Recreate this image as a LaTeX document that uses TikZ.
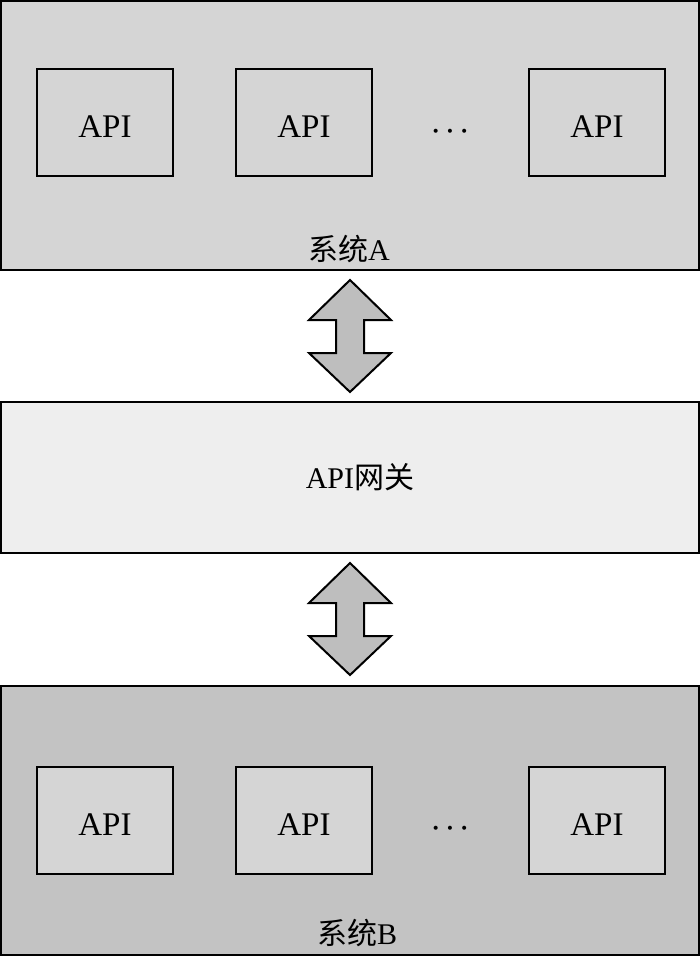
\documentclass[tikz,border=0pt]{standalone}
\usepackage{fontspec}
\setmainfont{Liberation Serif}
\newfontfamily\cjk{Noto Sans CJK SC}
\usetikzlibrary{calc}

\definecolor{sysAfill}{HTML}{D5D5D5}
\definecolor{sysBfill}{HTML}{C3C3C3}
\definecolor{gwfill}{HTML}{EEEEEE}
\definecolor{arrowfill}{HTML}{BEBEBE}

\tikzset{
  sysbox/.style={draw, line width=2pt, minimum width=698pt, inner sep=0pt},
  apibox/.style={draw, line width=2pt, minimum width=136pt, minimum height=107pt,
    inner sep=0pt, text height=30pt, text depth=0pt, font=\fontsize{33}{36}\selectfont},
  syslabel/.style={font=\fontsize{30}{32}\selectfont},
  dotlabel/.style={font=\fontsize{34}{38}\selectfont},
  dblarrow/.pic={
    \draw[fill=arrowfill, line width=2pt, line join=miter]
      (0,-56) -- (41,-16) -- (14,-16) -- (14,17) -- (41,17) -- (0,56)
      -- (-41,17) -- (-14,17) -- (-14,-16) -- (-41,-16) -- cycle;
  }
}

\begin{document}
\begin{tikzpicture}[x=1pt, y=-1pt]
    \useasboundingbox (0,0) rectangle (700,957);

    % system A with its APIs
    \node[sysbox, fill=sysAfill, minimum height=269pt] (sysA) at (350,136) {};
    \foreach \x/\n in {105/1, 304/2, 597/3}
        \node[apibox] (apiA\n) at (\x,122.5) {API};
    \node[dotlabel] (dotsA) at (450,136) {·\kern3pt·\kern3pt·};
    \node[syslabel] (labA) at (349,249) {{\cjk 系统}A};

    % gateway
    \node[sysbox, fill=gwfill, minimum height=151pt] (gw) at (350,477) {};
    \node[syslabel] (labgw) at (360,477) {API{\cjk 网关}};

    % system B with its APIs
    \node[sysbox, fill=sysBfill, minimum height=269pt] (sysB) at (350,820) {};
    \foreach \x/\n in {105/1, 304/2, 597/3}
        \node[apibox, fill=sysAfill] (apiB\n) at (\x,820.5) {API};
    \node[dotlabel] (dotsB) at (450,833) {·\kern3pt·\kern3pt·};
    \node[syslabel] (labB) at (357,933) {{\cjk 系统}B};

    % two-way arrows between the layers
    \pic at ($(sysA.south)!0.5!(gw.north)$) {dblarrow};
    \pic at ($(gw.south)!0.5!(sysB.north)$) {dblarrow};

\end{tikzpicture}
\end{document}
